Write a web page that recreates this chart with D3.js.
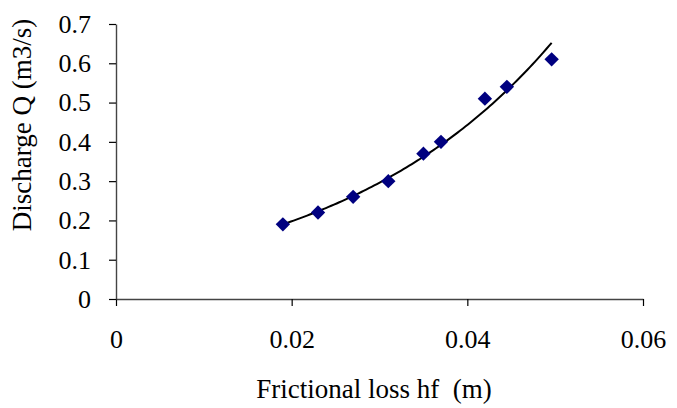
<!DOCTYPE html>
<html>
<head>
<meta charset="utf-8">
<script src="https://cdn.jsdelivr.net/npm/d3@7"></script>
<style>
  html, body { margin: 0; padding: 0; background: #fff; }
  svg { display: block; }
  text { font-family: "Liberation Serif", "Times New Roman", serif; fill: #000; }
</style>
</head>
<body>
<svg id="chart" width="677" height="408"></svg>
<script>
// Data
const frictionalLoss = [0.019, 0.023, 0.027, 0.031, 0.035, 0.037, 0.042, 0.0445, 0.0496];
const discharge      = [0.19, 0.22, 0.26, 0.30, 0.37, 0.40, 0.51, 0.54, 0.61];
const xTicks = [0, 0.02, 0.04, 0.06];
const yTicks = [0, 0.1, 0.2, 0.3, 0.4, 0.5, 0.6, 0.7];
const xTickLabels = ["0", "0.02", "0.04", "0.06"];
const yTickLabels = ["0", "0.1", "0.2", "0.3", "0.4", "0.5", "0.6", "0.7"];
const xTitle = "Frictional loss hf  (m)";
const yTitle = "Discharge Q (m3/s)";

const svg = d3.select("#chart");
const x = d3.scaleLinear().domain([0, 0.06]).range([116, 643]);
const y = d3.scaleLinear().domain([0, 0.7]).range([299, 24]);

// Axes
const xAxis = d3.axisBottom(x).tickValues(xTicks)
  .tickFormat((d, i) => xTickLabels[i]).tickSizeInner(7).tickSizeOuter(0).tickPadding(24);
const yAxis = d3.axisLeft(y).tickValues(yTicks)
  .tickFormat((d, i) => yTickLabels[i]).tickSizeInner(7).tickSizeOuter(0).tickPadding(18);

const gx = svg.append("g").attr("transform", "translate(0,299)").call(xAxis);
const gy = svg.append("g").attr("transform", "translate(116,0)").call(yAxis);
[gx, gy].forEach(g => {
  g.select(".domain").attr("stroke", "#444").attr("stroke-width", 1.4);
  g.selectAll(".tick line").attr("stroke", "#000").attr("stroke-width", 1.2);
  g.selectAll(".tick text").attr("font-size", 26).attr("font-family", "Liberation Serif");
});

// Exponential trendline fitted from the data (least squares on ln Q)
const n = frictionalLoss.length;
const lnQ = discharge.map(Math.log);
const mx = d3.mean(frictionalLoss), my = d3.mean(lnQ);
let sxy = 0, sxx = 0;
for (let i = 0; i < n; i++) {
  sxy += (frictionalLoss[i] - mx) * (lnQ[i] - my);
  sxx += (frictionalLoss[i] - mx) ** 2;
}
const b = sxy / sxx, a = Math.exp(my - b * mx);
const x0 = d3.min(frictionalLoss), x1 = d3.max(frictionalLoss);
const trend = d3.range(0, 101).map(k => {
  const xv = x0 + (x1 - x0) * k / 100;
  return [xv, a * Math.exp(b * xv)];
});
svg.append("path")
  .datum(trend)
  .attr("fill", "none")
  .attr("stroke", "#000")
  .attr("stroke-width", 2)
  .attr("d", d3.line().x(d => x(d[0])).y(d => y(d[1])));

// Diamond markers
const r = 7.2;
svg.append("g").selectAll("path")
  .data(frictionalLoss.map((v, i) => [v, discharge[i]]))
  .join("path")
  .attr("fill", "#000080")
  .attr("d", d => {
    const cx = x(d[0]), cy = y(d[1]);
    return `M${cx},${cy - r}L${cx + r},${cy}L${cx},${cy + r}L${cx - r},${cy}Z`;
  });

// Axis titles
svg.append("text")
  .attr("x", 374).attr("y", 398)
  .attr("text-anchor", "middle")
  .attr("font-size", 27)
  .style("white-space", "pre")
  .text(xTitle);

svg.append("text")
  .attr("transform", "translate(31,125) rotate(-90)")
  .attr("text-anchor", "middle")
  .attr("font-size", 27)
  .text(yTitle);
</script>
</body>
</html>
